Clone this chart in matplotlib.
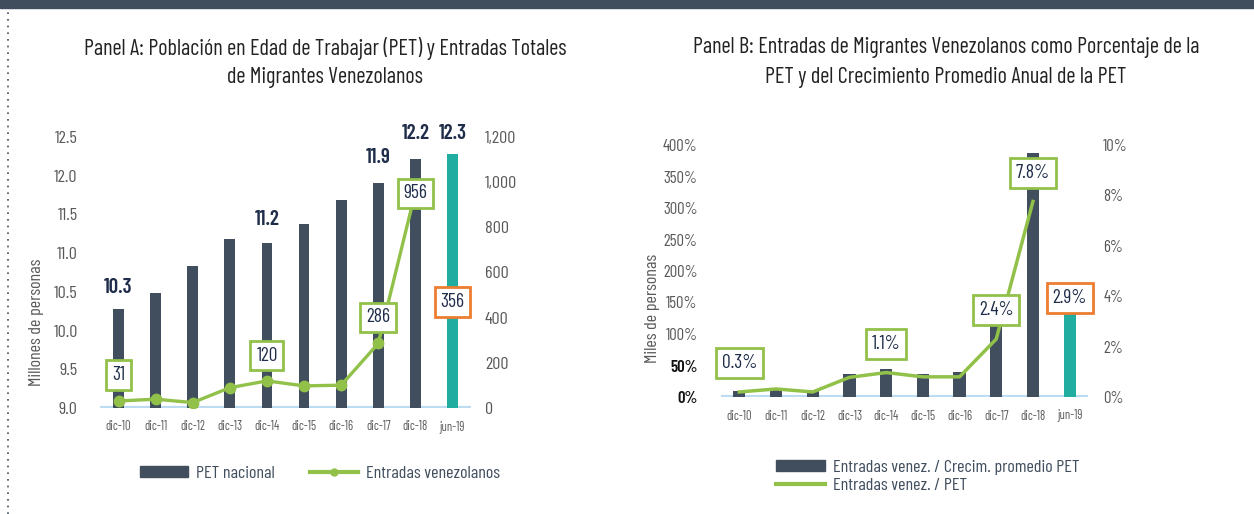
import matplotlib
matplotlib.use("Agg")
import matplotlib.pyplot as plt
from matplotlib.lines import Line2D
from matplotlib.patches import Patch

plt.rcParams['font.family'] = ['Barlow Condensed', 'DejaVu Sans']

# datos
cats = ['dic-10', 'dic-11', 'dic-12', 'dic-13', 'dic-14', 'dic-15', 'dic-16', 'dic-17', 'dic-18', 'jun-19']
pet = [10.28, 10.49, 10.84, 11.18, 11.13, 11.37, 11.68, 11.90, 12.21, 12.28]
entradas = [31, 39, 24, 90, 120, 98, 101, 286, 956]
pet_labels = {0: '10.3', 4: '11.2', 7: '11.9', 8: '12.2', 9: '12.3'}
ent_labels = {0: '31', 4: '120', 7: '286', 8: '956', 9: '356'}

ratio_crecim = [9, 14, 9, 37, 45, 37, 40, 120, 388, 133]
ratio_pet = [0.2, 0.32, 0.2, 0.78, 0.97, 0.8, 0.8, 2.3, 7.76]
ratio_labels = {0: '0.3%', 4: '1.1%', 7: '2.4%', 8: '7.8%', 9: '2.9%'}

DARK = '#404e5e'
TEAL = '#22ada1'
GREEN = '#92c14a'
ORANGE = '#ed7d31'
NAVY = '#1f2d4a'
GRAY = '#595959'
BASE = '#bddcf2'

fig = plt.figure(figsize=(12.54, 5.14), dpi=100)
W, H = 1254, 514

def px(l, t, r, b):
    return [l / W, 1 - b / H, (r - l) / W, (b - t) / H]

# banda superior y línea punteada
fig.patches.append(plt.Rectangle((0, 1 - 8 / H), 1, 8 / H, transform=fig.transFigure,
                                 color='#3f4d5c', zorder=0))
fig.add_artist(Line2D([8 / W, 8 / W], [0, 1 - 12 / H], transform=fig.transFigure,
                      color='#3f4d5c', lw=1.2, ls=(0, (1, 3))))

x = list(range(len(cats)))
bar_colors = [DARK] * 9 + [TEAL]

def style(ax, ax2, lpad, rpad, size):
    for a in (ax, ax2):
        for s in a.spines.values():
            s.set_visible(False)
        a.tick_params(length=0, colors=GRAY, labelsize=size)
    ax.tick_params(axis='y', pad=lpad)
    ax2.tick_params(axis='y', pad=rpad)
    ax.set_xticks(x)
    ax.set_xticklabels(cats, fontsize=9, color=GRAY)
    ax.tick_params(axis='x', pad=9)
    ax.set_xlim(-0.5, 9.5)
    ax.axhline(ax.get_ylim()[0], color=BASE, lw=3, zorder=1)
    ax2.set_zorder(ax.get_zorder() + 1)
    ax.patch.set_visible(False)
    ax2.patch.set_visible(False)

def box(ax, i, y, txt, ec):
    ax.text(i, y, txt, ha='center', va='center', fontsize=14, color=NAVY, zorder=10,
            bbox=dict(boxstyle='square,pad=0.3', fc='white', ec=ec, lw=2))

# Panel A
axA = fig.add_axes(px(100, 137, 471, 408))
axA.bar(x, [p - 9 for p in pet], bottom=9, width=0.29, color=bar_colors, zorder=2)
axA.set_ylim(9, 12.5)
axA.set_yticks([9.0, 9.5, 10.0, 10.5, 11.0, 11.5, 12.0, 12.5])
axA.set_yticklabels(['9.0', '9.5', '10.0', '10.5', '11.0', '11.5', '12.0', '12.5'])
axA2 = axA.twinx()
axA2.plot(x[:9], entradas, color=GREEN, lw=2.4, marker='o', ms=7.5, zorder=3)
axA2.set_ylim(0, 1200)
axA2.set_yticks(range(0, 1201, 200))
axA2.set_yticklabels(['0', '200', '400', '600', '800', '1,000', '1,200'])
style(axA, axA2, 16, 10, 13)
fig.text(36 / W, 1 - 322 / H, 'Millones de personas', rotation=90, ha='center', va='center',
         fontsize=13, color=GRAY)
label_pos_A = {0: 10.56, 4: 11.44, 7: 12.23, 8: 12.54, 9: 12.54}
for i, t in pet_labels.items():
    axA.text(i, label_pos_A[i], t, ha='center', va='center', fontsize=15,
             color=NAVY, fontweight='semibold', clip_on=False)
box_pos_A = {0: 147, 4: 232, 7: 401, 8: 950, 9: 468}
for i, t in ent_labels.items():
    box(axA2, i, box_pos_A[i], t, ORANGE if i == 9 else GREEN)

fig.text(325 / W, 1 - 48 / H, 'Panel A: Población en Edad de Trabajar (PET) y Entradas Totales',
         ha='center', va='center', fontsize=16, color='#222222')
fig.text(325 / W, 1 - 78 / H, 'de Migrantes Venezolanos',
         ha='center', va='center', fontsize=16, color='#222222')

fig.legend(handles=[Patch(color=DARK, label='PET nacional'),
                    Line2D([], [], color=GREEN, lw=3, marker='o', ms=5, label='Entradas venezolanos')],
           loc='center', bbox_to_anchor=(320 / W, 1 - 473 / H), ncol=2, frameon=False,
           fontsize=13, handlelength=2.7, handletextpad=0.45, columnspacing=1.9,
           handleheight=0.55, labelcolor=DARK)

# Panel B
axB = fig.add_axes(px(721, 145, 1088, 397))
axB.bar(x, ratio_crecim, width=0.33, color=bar_colors, zorder=2)
axB.set_ylim(0, 400)
axB.set_yticks(range(0, 401, 50))
axB.set_yticklabels([f'{v}%' for v in range(0, 401, 50)])
axB2 = axB.twinx()
axB2.plot(x[:9], ratio_pet, color=GREEN, lw=2.5, zorder=3)
axB2.set_ylim(0, 10)
axB2.set_yticks(range(0, 11, 2))
axB2.set_yticklabels([f'{v}%' for v in range(0, 11, 2)])
style(axB, axB2, 17, 11, 12)
for lab in axB.get_yticklabels()[:2]:
    lab.set_color('#111111')
    lab.set_fontweight('semibold')
fig.text(652 / W, 1 - 308 / H, 'Miles de personas', rotation=90, ha='center', va='center',
         fontsize=13, color=GRAY)
box_pos_B = {0: 1.36, 4: 2.1, 7: 3.45, 8: 8.9, 9: 3.92}
for i, t in ratio_labels.items():
    box(axB2, i, box_pos_B[i], t, ORANGE if i == 9 else GREEN)

fig.text(946 / W, 1 - 48 / H, 'Panel B: Entradas de Migrantes Venezolanos como Porcentaje de la',
         ha='center', va='center', fontsize=16, color='#222222')
fig.text(946 / W, 1 - 78 / H, 'PET y del Crecimiento Promedio Anual de la PET',
         ha='center', va='center', fontsize=16, color='#222222')

fig.legend(handles=[Patch(color=DARK, label='Entradas venez. / Crecim. promedio PET'),
                    Line2D([], [], color=GREEN, lw=3, label='Entradas venez. / PET')],
           loc='upper left', bbox_to_anchor=(760 / W, 1 - 444 / H), ncol=1, frameon=False,
           fontsize=13, handlelength=2.7, handletextpad=0.45, labelspacing=0.15,
           handleheight=0.55, labelcolor=DARK)

fig.savefig('out.png', dpi=100)
